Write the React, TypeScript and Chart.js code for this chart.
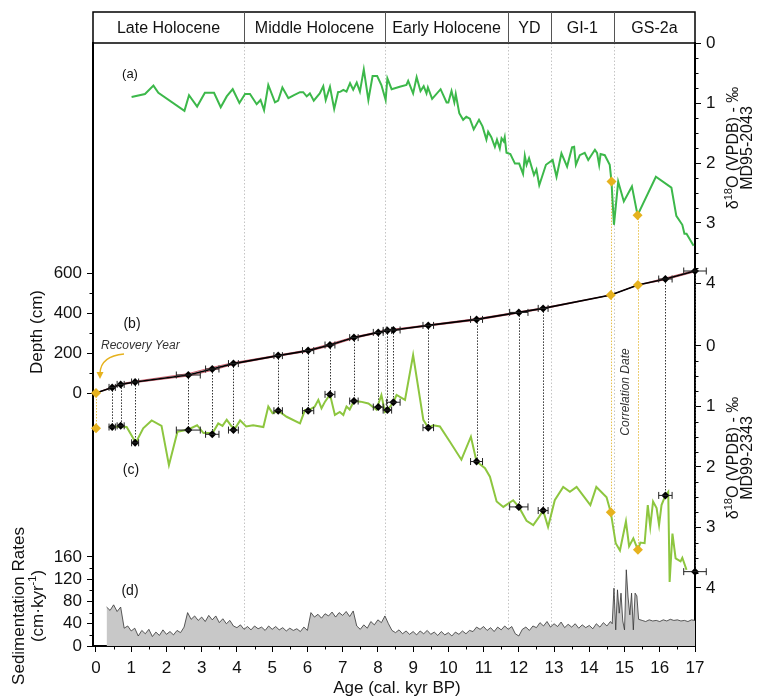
import React, { useEffect, useRef } from 'react';
import { Chart, registerables } from 'chart.js';
Chart.register(...registerables);

const FONT = "'Liberation Sans', Arial, Helvetica, sans-serif";

// ---- header periods ----
const periodNames = ['Late Holocene', 'Middle Holocene', 'Early Holocene', 'YD', 'GI-1', 'GS-2a'];
const periodEdges = [4.2, 8.2, 11.7, 12.9, 14.7];

// ---- ticks ----
const ageTicks = [0, 1, 2, 3, 4, 5, 6, 7, 8, 9, 10, 11, 12, 13, 14, 15, 16, 17];
const ageMinorTicks = [0.5, 1.5, 2.5, 3.5, 4.5, 5.5, 6.5, 7.5, 8.5, 9.5, 10.5, 11.5, 12.5, 13.5, 14.5, 15.5, 16.5];
const d18Ticks = [0, 1, 2, 3, 4];
const d18MinorTicks = [0.25, 0.5, 0.75, 1.25, 1.5, 1.75, 2.25, 2.5, 2.75, 3.25, 3.5, 3.75];
const depthTicks = [0, 200, 400, 600];
const depthMinorTicks = [100, 300, 500];
const sedTicks = [0, 40, 80, 120, 160];
const sedMinorTicks = [20, 60, 100, 140];

// ---- (a) MD95-2043 d18O ----
const aAge = [1.01, 1.39, 1.63, 1.77, 2.51, 2.64, 2.87, 3.09, 3.35, 3.54, 3.71, 3.88, 4.07, 4.23, 4.37, 4.56, 4.67, 4.77, 4.89, 5.08, 5.17, 5.29, 5.46, 5.62, 5.79, 5.88, 5.98, 6.07, 6.18, 6.35, 6.45, 6.52, 6.64, 6.76, 6.87, 6.94, 7.02, 7.11, 7.21, 7.3, 7.4, 7.49, 7.6, 7.73, 7.85, 7.98, 8.1, 8.22, 8.27, 8.39, 8.62, 8.81, 8.86, 9.0, 9.1, 9.21, 9.3, 9.38, 9.42, 9.54, 9.78, 9.95, 10.0, 10.09, 10.17, 10.21, 10.31, 10.42, 10.51, 10.61, 10.72, 10.87, 10.97, 11.08, 11.13, 11.22, 11.32, 11.38, 11.46, 11.51, 11.57, 11.6, 11.65, 11.76, 11.89, 12.01, 12.12, 12.17, 12.22, 12.29, 12.43, 12.5, 12.58, 12.77, 12.96, 13.07, 13.21, 13.37, 13.51, 13.57, 13.62, 13.73, 13.87, 13.97, 14.16, 14.22, 14.28, 14.32, 14.44, 14.58, 14.63, 14.7, 14.82, 14.98, 15.21, 15.37, 15.89, 16.33, 16.47, 16.64, 16.7, 16.76, 16.96];
const aD18 = [0.9, 0.85, 0.71, 0.83, 1.13, 0.87, 1.06, 0.83, 0.83, 1.07, 0.89, 0.77, 1.0, 0.85, 0.85, 1.02, 0.95, 1.12, 0.7, 0.99, 0.96, 0.74, 0.92, 0.87, 0.82, 0.82, 0.89, 0.84, 0.96, 0.84, 0.72, 0.95, 0.73, 1.1, 0.82, 0.81, 0.78, 0.81, 0.67, 0.78, 0.66, 0.81, 0.44, 0.95, 0.55, 0.55, 0.7, 0.95, 0.59, 0.77, 0.73, 0.7, 0.63, 0.84, 0.57, 0.8, 0.72, 0.84, 0.74, 0.93, 0.77, 0.99, 0.99, 0.8, 0.99, 0.85, 1.17, 1.28, 1.23, 1.26, 1.44, 1.28, 1.39, 1.61, 1.48, 1.57, 1.73, 1.61, 1.76, 1.59, 1.64, 1.57, 1.83, 1.85, 2.01, 2.01, 2.18, 1.88, 2.03, 1.92, 2.2, 2.11, 2.37, 2.03, 1.95, 2.23, 1.84, 2.06, 1.74, 1.73, 2.03, 1.87, 1.83, 1.95, 1.78, 1.83, 2.03, 1.85, 1.87, 2.03, 2.31, 3.03, 2.31, 2.64, 2.39, 2.87, 2.23, 2.41, 2.88, 3.03, 3.18, 3.18, 3.38];

// ---- (c) MD99-2343 d18O ----
const cAge = [0.43, 0.68, 0.87, 1.13, 1.34, 1.58, 1.86, 2.07, 2.31, 2.62, 2.87, 3.05, 3.31, 3.47, 3.59, 3.71, 3.85, 3.95, 4.09, 4.26, 4.46, 4.75, 4.89, 5.01, 5.17, 5.41, 5.79, 5.93, 6.02, 6.21, 6.31, 6.4, 6.5, 6.64, 6.78, 6.92, 7.02, 7.11, 7.2, 7.32, 7.51, 7.73, 7.96, 8.1, 8.2, 8.27, 8.44, 8.53, 8.77, 9.0, 9.29, 9.43, 9.57, 9.76, 10.04, 10.37, 10.64, 10.8, 11.04, 11.18, 11.37, 11.56, 11.84, 12.0, 12.22, 12.41, 12.58, 12.69, 12.83, 13.02, 13.26, 13.45, 13.64, 14.03, 14.2, 14.49, 14.61, 14.75, 14.87, 15.04, 15.13, 15.25, 15.38, 15.45, 15.57, 15.66, 15.73, 15.81, 15.91, 15.98, 16.05, 16.16, 16.24, 16.28, 16.36, 16.45, 16.59, 16.64, 16.76];
const cD18 = [1.34, 1.33, 1.34, 1.6, 1.36, 1.23, 1.32, 1.97, 1.42, 1.38, 1.31, 1.44, 1.44, 1.28, 1.32, 1.22, 1.33, 1.36, 1.23, 1.33, 1.31, 1.34, 1.0, 1.11, 1.07, 1.17, 1.28, 1.06, 1.07, 1.0, 0.89, 1.03, 0.92, 0.8, 1.14, 1.09, 1.14, 1.0, 1.05, 0.91, 0.92, 0.95, 1.05, 0.81, 1.09, 1.06, 0.93, 0.81, 0.89, 0.15, 1.22, 1.35, 1.31, 1.33, 1.58, 1.88, 1.5, 1.91, 2.02, 2.16, 2.57, 2.66, 2.55, 2.66, 2.89, 2.96, 2.82, 2.72, 2.99, 2.55, 2.33, 2.41, 2.33, 2.63, 2.33, 2.5, 2.75, 3.26, 3.38, 2.9, 3.31, 3.18, 3.37, 3.25, 3.26, 2.63, 2.99, 2.57, 2.68, 2.96, 2.63, 2.47, 2.41, 3.9, 3.1, 3.51, 3.56, 3.5, 3.7];

// ---- (b) age-depth model ----
const modelAge = [0, 0.46, 0.7, 1.11, 2.62, 3.3, 3.9, 5.17, 6.02, 6.64, 7.32, 8.01, 8.27, 8.44, 9.43, 10.8, 12.0, 12.69, 14.61, 15.38, 16.16, 17.0];
const modelDepth = [0, 28, 43, 55, 90, 120, 147, 187, 212, 240, 277, 303, 313, 315, 338, 368, 403, 423, 490, 540, 570, 610];
const modelDepthHi = [0, 30, 46, 59, 97, 128, 152, 190, 216, 246, 281, 306, 316, 319, 341, 372, 406, 426, 490, 540, 575, 614];
const modelDepthLo = [0, 26, 41, 52, 85, 113, 143, 184, 208, 235, 273, 300, 310, 313, 335, 364, 400, 420, 490, 540, 566, 606];

// ---- tie points ----
const tieAge = [0.46, 0.7, 1.11, 2.62, 3.3, 3.9, 5.17, 6.02, 6.64, 7.32, 8.01, 8.27, 8.44, 9.43, 10.8, 12.0, 12.69, 16.16, 17.0];
const tieDepth = [28, 43, 55, 90, 120, 147, 187, 212, 240, 277, 303, 313, 315, 338, 368, 403, 423, 570, 610];
const tieErr = [0.09, 0.1, 0.1, 0.34, 0.19, 0.14, 0.12, 0.16, 0.14, 0.12, 0.14, 0.12, 0.19, 0.15, 0.17, 0.26, 0.14, 0.19, 0.32];
const tieD18 = [1.34, 1.32, 1.6, 1.39, 1.46, 1.39, 1.07, 1.07, 0.8, 0.91, 1.01, 1.06, 0.93, 1.35, 1.91, 2.66, 2.72, 2.47, 3.73];

// ---- correlation (yellow) points ----
const corrAge = [0, 14.61, 15.38];
const corrDepth = [0, 490, 540];
const corrD18c = [1.36, 2.75, 3.37];
const corrAgeA = [14.63, 15.37];
const corrD18a = [2.31, 2.87];

// ---- (d) sedimentation rates ----
const sedAge = [0.3, 0.4, 0.5, 0.6, 0.7, 0.8, 0.9, 1.0, 1.1, 1.2, 1.3, 1.4, 1.5, 1.6, 1.7, 1.8, 1.9, 2.0, 2.1, 2.2, 2.3, 2.4, 2.5, 2.6, 2.7, 2.8, 2.9, 3.0, 3.1, 3.2, 3.3, 3.4, 3.5, 3.6, 3.7, 3.8, 3.9, 4.0, 4.1, 4.2, 4.3, 4.4, 4.5, 4.6, 4.7, 4.8, 4.9, 5.0, 5.1, 5.2, 5.3, 5.4, 5.5, 5.6, 5.7, 5.8, 5.9, 6.0, 6.1, 6.2, 6.3, 6.4, 6.5, 6.6, 6.7, 6.8, 6.9, 7.0, 7.1, 7.2, 7.3, 7.4, 7.5, 7.6, 7.7, 7.8, 7.9, 8.0, 8.1, 8.2, 8.3, 8.4, 8.5, 8.6, 8.7, 8.8, 8.9, 9.0, 9.1, 9.2, 9.3, 9.4, 9.5, 9.6, 9.7, 9.8, 9.9, 10.0, 10.1, 10.2, 10.3, 10.4, 10.5, 10.6, 10.7, 10.8, 10.9, 11.0, 11.1, 11.2, 11.3, 11.4, 11.5, 11.6, 11.7, 11.8, 11.9, 12.0, 12.1, 12.2, 12.3, 12.4, 12.5, 12.6, 12.7, 12.8, 12.9, 13.0, 13.1, 13.2, 13.3, 13.4, 13.5, 13.6, 13.7, 13.8, 13.9, 14.0, 14.1, 14.2, 14.3, 14.4, 14.5, 14.6, 14.65, 14.7, 14.75, 14.8, 14.85, 14.9, 14.95, 15.0, 15.05, 15.1, 15.15, 15.2, 15.25, 15.3, 15.35, 15.4, 15.5, 15.6, 15.7, 15.8, 15.9, 16.0, 16.1, 16.2, 16.3, 16.4, 16.5, 16.6, 16.7, 16.8, 16.9, 17.0];
const sedRate = [70, 64, 74, 62, 70, 32, 36, 27, 32, 18, 28, 22, 30, 17, 25, 19, 29, 21, 26, 20, 28, 24, 34, 60, 48, 54, 46, 52, 44, 55, 47, 54, 42, 49, 40, 46, 36, 33, 38, 30, 35, 29, 36, 31, 34, 28, 36, 30, 35, 29, 33, 27, 32, 28, 31, 26, 34, 28, 60, 52, 57, 50, 58, 54, 61, 52, 60, 55, 62, 53, 63, 36, 30, 38, 32, 44, 38, 47, 42, 54, 40, 28, 24, 29, 22, 27, 21, 26, 20, 27, 22, 28, 21, 25, 19, 26, 20, 24, 18, 25, 21, 27, 22, 28, 26, 34, 30, 35, 28, 33, 26, 34, 29, 36, 30, 35, 22, 18, 30, 34, 28, 36, 33, 42, 36, 44, 34, 40, 35, 43, 33, 39, 34, 40, 32, 38, 33, 37, 31, 40, 34, 42, 36, 44, 40, 104, 29, 101, 59, 95, 45, 29, 137, 88, 56, 95, 29, 95, 90, 48, 46, 44, 47, 45, 46, 44, 47, 45, 48, 46, 47, 45, 46, 44, 47, 46];

const X_MIN = -0.085;
const X_MAX = 17;

const GREEN_A = '#3cb84a';
const GREEN_C = '#8dc63f';
const YELLOW = '#e6b21e';

const xy = (xs: number[], ys: number[]) => xs.map((v, i) => ({ x: v, y: ys[i] }));
const fixTicks = (vals: number[]) => (s: any) => { s.ticks = vals.map((v) => ({ value: v })); };
// axes take no layout room; their labels are drawn into the layout padding (no clipping)
const zeroW = (s: any) => { s.width = 0; s._computeLabelArea = () => undefined; };
const zeroH = (s: any) => { s.height = 0; s._computeLabelArea = () => undefined; };

function seg(ctx: CanvasRenderingContext2D, x1: number, y1: number, x2: number, y2: number) {
  ctx.beginPath(); ctx.moveTo(x1, y1); ctx.lineTo(x2, y2); ctx.stroke();
}

type Part = { t: string; size: number; dy?: number; italic?: boolean };
function rotatedText(ctx: CanvasRenderingContext2D, cx: number, cy: number, parts: Part[]) {
  ctx.save();
  ctx.translate(cx, cy);
  ctx.rotate(-Math.PI / 2);
  ctx.textBaseline = 'middle';
  ctx.textAlign = 'left';
  let total = 0;
  const ws = parts.map((p) => { ctx.font = `${p.italic ? 'italic ' : ''}${p.size}px ${FONT}`; const w = ctx.measureText(p.t).width; total += w; return w; });
  let xx = -total / 2;
  parts.forEach((p, i) => { ctx.font = `${p.italic ? 'italic ' : ''}${p.size}px ${FONT}`; ctx.fillText(p.t, xx, p.dy || 0); xx += ws[i]; });
  ctx.restore();
}

const overlay = {
  id: 'overlay',
  beforeDatasetsDraw(chart: any) {
    const ctx: CanvasRenderingContext2D = chart.ctx;
    const { x, yA, yC, yD } = chart.scales;
    const area = chart.chartArea;
    ctx.save();
    // period boundaries
    ctx.strokeStyle = '#c4c4c4'; ctx.lineWidth = 1; ctx.setLineDash([1.5, 2]);
    periodEdges.forEach((e) => { const px = Math.round(x.getPixelForValue(e)) + 0.5; seg(ctx, px, area.top, px, area.bottom - 6); });
    // tie lines
    ctx.strokeStyle = '#333'; ctx.setLineDash([1.5, 1.5]);
    tieAge.forEach((t, i) => { const px = Math.round(x.getPixelForValue(t)) + 0.5; seg(ctx, px, yD.getPixelForValue(tieDepth[i]), px, yC.getPixelForValue(tieD18[i])); });
    // correlation lines
    ctx.strokeStyle = '#e8c04a';
    corrAge.forEach((t, i) => {
      const px = Math.round(x.getPixelForValue(t)) + 0.5;
      const top = i === 0 ? yD.getPixelForValue(corrDepth[0]) : yA.getPixelForValue(corrD18a[i - 1]);
      seg(ctx, px, top, px, yC.getPixelForValue(corrD18c[i]));
    });
    ctx.restore();
  },
  afterDatasetsDraw(chart: any) {
    const ctx: CanvasRenderingContext2D = chart.ctx;
    const { x, yC, yD } = chart.scales;
    ctx.save();
    ctx.strokeStyle = '#222'; ctx.lineWidth = 1;
    tieAge.forEach((t, i) => {
      const x1 = x.getPixelForValue(t - tieErr[i]);
      const x2 = x.getPixelForValue(t + tieErr[i]);
      [yD.getPixelForValue(tieDepth[i]), yC.getPixelForValue(tieD18[i])].forEach((py) => {
        seg(ctx, x1, py, x2, py);
        seg(ctx, x1, py - 3.5, x1, py + 3.5);
        seg(ctx, x2, py - 3.5, x2, py + 3.5);
      });
    });
    ctx.restore();
  },
  afterDraw(chart: any) {
    const ctx: CanvasRenderingContext2D = chart.ctx;
    const { x, yA, yC, yD, yS } = chart.scales;
    const area = chart.chartArea;
    ctx.save();
    // header box
    const L = area.left, R = area.right, T = 12, B = area.top;
    ctx.strokeStyle = '#000'; ctx.lineWidth = 1.5;
    ctx.strokeRect(L, T, R - L, B - T);
    ctx.lineWidth = 1; ctx.strokeStyle = '#555';
    const edges = [L, ...periodEdges.map((e) => x.getPixelForValue(e)), R];
    periodEdges.forEach((e) => { const px = Math.round(x.getPixelForValue(e)) + 0.5; seg(ctx, px, T, px, B); });
    ctx.fillStyle = '#111'; ctx.font = `16px ${FONT}`; ctx.textAlign = 'center'; ctx.textBaseline = 'middle';
    periodNames.forEach((n, i) => ctx.fillText(n, (edges[i] + edges[i + 1]) / 2, (T + B) / 2 + 1));

    // minor ticks
    ctx.strokeStyle = '#000'; ctx.lineWidth = 1;
    ageMinorTicks.forEach((v) => { const px = Math.round(x.getPixelForValue(v)) + 0.5; seg(ctx, px, area.bottom, px, area.bottom + 3.5); });
    d18MinorTicks.forEach((v) => {
      [yA, yC].forEach((s: any) => { const py = Math.round(s.getPixelForValue(v)) + 0.5; seg(ctx, R, py, R + 3.5, py); });
    });
    depthMinorTicks.forEach((v) => { const py = Math.round(yD.getPixelForValue(v)) + 0.5; seg(ctx, L - 3.5, py, L, py); });
    sedMinorTicks.forEach((v) => { const py = Math.round(yS.getPixelForValue(v)) + 0.5; seg(ctx, L - 3.5, py, L, py); });

    // axis titles
    ctx.fillStyle = '#111';
    ctx.font = `17px ${FONT}`; ctx.textAlign = 'center'; ctx.textBaseline = 'middle';
    ctx.fillText('Age (cal. kyr BP)', 397, 688);
    rotatedText(ctx, 37, 332, [{ t: 'Depth (cm)', size: 17 }]);
    rotatedText(ctx, 19, 606, [{ t: 'Sedimentation Rates', size: 17 }]);
    rotatedText(ctx, 38, 606, [{ t: '(cm·kyr', size: 17 }, { t: '-1', size: 11, dy: -5 }, { t: ')', size: 17 }]);
    rotatedText(ctx, 734, 148, [{ t: 'δ', size: 16 }, { t: '18', size: 11, dy: -5 }, { t: 'O (VPDB) - ‰', size: 16 }]);
    rotatedText(ctx, 748, 148, [{ t: 'MD95-2043', size: 16 }]);
    rotatedText(ctx, 734, 458, [{ t: 'δ', size: 16 }, { t: '18', size: 11, dy: -5 }, { t: 'O (VPDB) - ‰', size: 16 }]);
    rotatedText(ctx, 748, 458, [{ t: 'MD99-2343', size: 16 }]);

    // panel labels
    ctx.font = `13px ${FONT}`;
    ctx.fillText('(a)', 130, 74);
    ctx.font = `14px ${FONT}`;
    ctx.fillText('(b)', 132, 324);
    ctx.fillText('(c)', 131, 470);
    ctx.fillText('(d)', 130, 591);

    // annotations
    ctx.fillStyle = '#333';
    ctx.font = `italic 12px ${FONT}`; ctx.textAlign = 'left';
    ctx.fillText('Recovery Year', 101, 346);
    rotatedText(ctx, 626, 392, [{ t: 'Correlation Date', size: 12, italic: true }]);
    // recovery arrow
    ctx.strokeStyle = YELLOW; ctx.fillStyle = YELLOW; ctx.lineWidth = 1.3;
    ctx.beginPath(); ctx.moveTo(124, 354); ctx.quadraticCurveTo(101, 356, 100, 373); ctx.stroke();
    ctx.beginPath(); ctx.moveTo(96.5, 372); ctx.lineTo(103.5, 372); ctx.lineTo(100, 379); ctx.closePath(); ctx.fill();
    ctx.restore();
  },
};

export default function App() {
  const ref = useRef<HTMLCanvasElement | null>(null);
  useEffect(() => {
    if (!ref.current) return;
    Chart.defaults.font.family = FONT;
    const tickFont = { family: FONT, size: 17 };
    const yAxisBase = (pos: 'left' | 'right', vals: number[]) => ({
      type: 'linear' as const,
      position: pos,
      afterFit: zeroW,
      afterBuildTicks: fixTicks(vals),
      ticks: { font: tickFont, color: '#111', padding: 5, autoSkip: false, callback: (v: any) => String(v) },
      grid: { display: true, drawOnChartArea: false, drawTicks: true, tickLength: 6, color: '#000', lineWidth: 1 },
      border: { display: true, color: '#000', width: 2 },
    });
    const chart = new Chart(ref.current, {
      type: 'line',
      data: {
        datasets: [
          { label: 'tie b', data: xy(tieAge, tieDepth), yAxisID: 'yD', showLine: false, pointStyle: 'rectRot', pointRadius: 4, pointBackgroundColor: '#000', pointBorderWidth: 0, order: 0, clip: false } as any,
          { label: 'tie c', data: xy(tieAge, tieD18), yAxisID: 'yC', showLine: false, pointStyle: 'rectRot', pointRadius: 4, pointBackgroundColor: '#000', pointBorderWidth: 0, order: 0, clip: false } as any,
          { label: 'corr depth', data: xy(corrAge, corrDepth), yAxisID: 'yD', showLine: false, pointStyle: 'rectRot', pointRadius: 5, pointBackgroundColor: YELLOW, pointBorderWidth: 0, order: 0, clip: false } as any,
          { label: 'corr a', data: xy(corrAgeA, corrD18a), yAxisID: 'yA', showLine: false, pointStyle: 'rectRot', pointRadius: 5, pointBackgroundColor: YELLOW, pointBorderWidth: 0, order: 0, clip: false } as any,
          { label: 'corr c', data: xy(corrAge, corrD18c), yAxisID: 'yC', showLine: false, pointStyle: 'rectRot', pointRadius: 5, pointBackgroundColor: YELLOW, pointBorderWidth: 0, order: 0, clip: false } as any,
          { label: 'MD95-2043', data: xy(aAge, aD18), yAxisID: 'yA', borderColor: GREEN_A, borderWidth: 2, pointRadius: 0, tension: 0, order: 2 } as any,
          { label: 'MD99-2343', data: xy(cAge, cD18), yAxisID: 'yC', borderColor: GREEN_C, borderWidth: 2, pointRadius: 0, tension: 0, order: 2 } as any,
          { label: 'age model', data: xy(modelAge, modelDepth), yAxisID: 'yD', borderColor: '#000', borderWidth: 1.6, pointRadius: 0, tension: 0, order: 3, clip: false } as any,
          { label: 'model hi', data: xy(modelAge, modelDepthHi), yAxisID: 'yD', borderColor: 'rgba(190,40,60,0.9)', borderWidth: 0.8, pointRadius: 0, tension: 0, order: 4 } as any,
          { label: 'model lo', data: xy(modelAge, modelDepthLo), yAxisID: 'yD', borderColor: 'rgba(190,40,60,0.9)', borderWidth: 0.8, pointRadius: 0, tension: 0, order: 4 } as any,
          { label: 'sed rate', data: xy(sedAge, sedRate), yAxisID: 'yS', borderColor: '#333', borderWidth: 0.8, backgroundColor: '#c8c8c8', fill: 'origin', pointRadius: 0, tension: 0, order: 5 } as any,
        ],
      },
      options: {
        responsive: false,
        animation: false,
        events: [],
        layout: { padding: { left: 93, right: 62, top: 43, bottom: 51 } },
        plugins: { legend: { display: false }, tooltip: { enabled: false }, title: { display: false } },
        scales: {
          x: {
            type: 'linear', position: 'bottom', min: X_MIN, max: X_MAX,
            afterFit: zeroH, afterBuildTicks: fixTicks(ageTicks),
            ticks: { font: tickFont, color: '#111', padding: 6, maxRotation: 0, autoSkip: false, callback: (v: any) => String(v) },
            grid: { display: true, drawOnChartArea: false, drawTicks: true, tickLength: 6, color: '#000', lineWidth: 1 },
            border: { display: true, color: '#000', width: 2 },
          },
          yD: { ...yAxisBase('left', depthTicks), min: -1265, max: 1750, weight: 1 },
          yS: { ...yAxisBase('left', sedTicks), min: 0, max: 1084, weight: 0 },
          yA: { ...yAxisBase('right', d18Ticks), min: 0, max: 10.05, reverse: true, weight: 0 },
          yC: { ...yAxisBase('right', d18Ticks), min: -5.008, max: 4.959, reverse: true, weight: 1 },
        },
      } as any,
      plugins: [overlay],
    });
    return () => chart.destroy();
  }, []);
  return (
    <div style={{ position: 'absolute', left: 0, top: 0, width: 757, height: 697, background: '#fff' }}>
      <canvas ref={ref} width={757} height={697} style={{ display: 'block' }} />
    </div>
  );
}
